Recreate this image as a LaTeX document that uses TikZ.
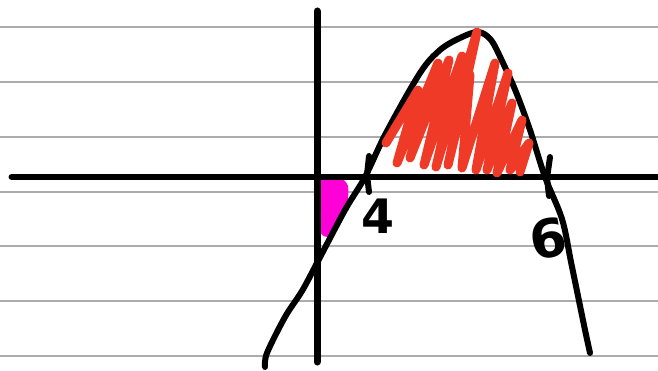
\documentclass[tikz,border=0pt]{standalone}
\usepackage{fontspec}
\setsansfont{DejaVu Sans}
\usepackage{xcolor}
\usepackage{tikz}
\usetikzlibrary{calc}

\definecolor{hatchred}{RGB}{238,58,38}
\definecolor{blobpink}{RGB}{255,0,214}
\definecolor{rulegray}{RGB}{172,172,172}

\begin{document}
\begin{tikzpicture}[
  x=0.02cm,
  y=-0.02cm,
  rule/.style={
    draw=rulegray,
    line width=0.3mm
  },
  axis/.style={
    draw,
    line width=1.4mm,
    line cap=round
  },
  curve/.style={
    draw,
    line width=1.2mm,
    line cap=round,
    line join=round
  },
  hatch/.style={
    draw=hatchred,
    line width=1.8mm,
    line cap=round,
    line join=round
  },
  digit/.style={
    font=\sffamily\bfseries\fontsize{27}{27}\selectfont,
    inner sep=0pt
  }
]
\useasboundingbox (0,0) rectangle (658,371);
% ruled paper
\foreach \y in {27,82,137,192,246,301,356}
  \draw[rule] (0,\y) -- (658,\y);
% pink patch
\fill[blobpink]
  (317,180) .. controls (326,174) and (342,172) .. (348,186)
  .. controls (350,200) and (344,224) .. (331,236)
  .. controls (321,240) and (317,230) .. (317,212) -- cycle;
% axes
\draw[axis] (12,177) -- (665,177);
\draw[axis] (317,11) -- (317,362);
% the graph
\draw[curve] plot[smooth, tension=0.55] coordinates {
  (265,367) (267,353) (285,317) (302,291) (317,263)
  (345,210) (365,177) (386,133) (420,73) (440,50)
  (460,38) (478,32) (491,40) (503,63) (516,92)
  (530,130) (545,177) (562,219) (571,262) (578,296)
  (585,330) (590,353)};
% zero marks
\draw[curve] (369,156) -- (367,175) -- (369,192);
\draw[curve] (550,157) -- (547,178) -- (549,196);
\node[digit] (four) at (378,216) {4};
\node[digit, font=\sffamily\bfseries\fontsize{30}{30}\selectfont,
  rotate=10] (six) at (548,238) {6};
% red scribble
\draw[hatch] (386,143) -- (418,90) -- (397,163) -- (438,63)
  -- (410,158) -- (449,60) -- (424,165) -- (462,56)
  -- (436,167) -- (477,32) -- (448,165) -- (470,75)
  -- (462,168) -- (495,63) -- (476,170) -- (508,73)
  -- (487,170) -- (512,103) -- (497,173) -- (522,120)
  -- (510,170) -- (529,143) -- (520,172);
\end{tikzpicture}
\end{document}
